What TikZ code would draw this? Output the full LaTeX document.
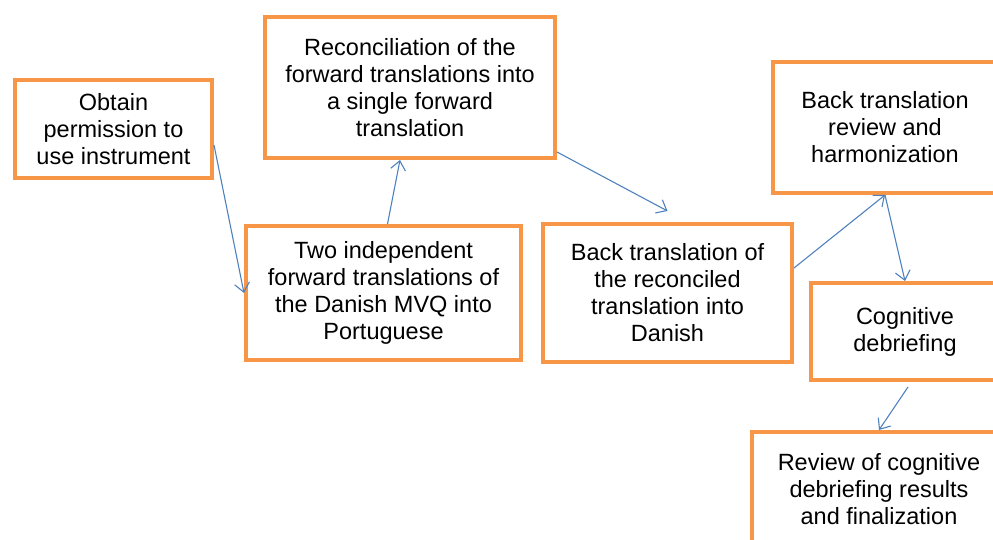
\documentclass[tikz,border=0pt]{standalone}
\usepackage{fontspec}
\setmainfont{Liberation Sans}
\usetikzlibrary{arrows.meta,positioning}
\definecolor{boxorange}{RGB}{247,150,70}
\definecolor{linkblue}{RGB}{79,129,189}

\begin{document}
\begin{tikzpicture}[x=1pt,y=-1pt,
		stepbox/.style={draw=boxorange,line width=4pt,fill=white,align=center,inner sep=0pt,
			font=\fontsize{23.5}{27}\selectfont},
		link/.style={draw=linkblue,line width=1.1pt,-{Straight Barb[length=9pt,width=15pt]}}]
		\useasboundingbox (0,0) rectangle (993,540);
		%Notation: boxes placed at their centres, sizes in pt
		\node[stepbox,minimum width=197pt,minimum height=98pt] (permission) at (113.5,129) {Obtain\\permission to\\use instrument};
		\node[stepbox,minimum width=290pt,minimum height=141pt] (reconcile) at (410,87.5) {Reconciliation of the\\forward translations into\\a single forward\\translation};
		\node[stepbox,minimum width=275pt,minimum height=134pt] (forward) at (383.5,293) {Two independent\\forward translations of\\the Danish MVQ into\\Portuguese};
		\node[stepbox,minimum width=249pt,minimum height=138pt] (back) at (667.5,293) {Back translation of\\the reconciled\\translation into\\Danish};
		\node[stepbox,minimum width=224pt,minimum height=131pt] (review) at (885,127.5) {Back translation\\review and\\harmonization};
		\node[stepbox,minimum width=188pt,minimum height=97pt] (cognitive) at (905,331.5) {Cognitive\\debriefing};
		\node[stepbox,minimum width=254pt,minimum height=114pt] (final) at (879,489) {Review of cognitive\\debriefing results\\and finalization};
		
		% The arrow into the back translation stops short of the box
		\coordinate (backtop) at ([yshift=11pt]back.north);
		
		% Draw the connectors
		\draw[link] ([yshift=-16pt]permission.east) -- (forward.west);
		\draw[link] ([xshift=4pt]forward.north) -- ([xshift=-10pt]reconcile.south);
		\draw[link] ([yshift=8pt]reconcile.south east) -- (backtop);
		\draw[link] ([yshift=25pt]back.east) -- (review.south);
		\draw[link] (review.south) -- (cognitive.north);
		\draw[link] ([shift={(3pt,-5pt)}]cognitive.south) -- (final.north);
	\end{tikzpicture}
\end{document}
